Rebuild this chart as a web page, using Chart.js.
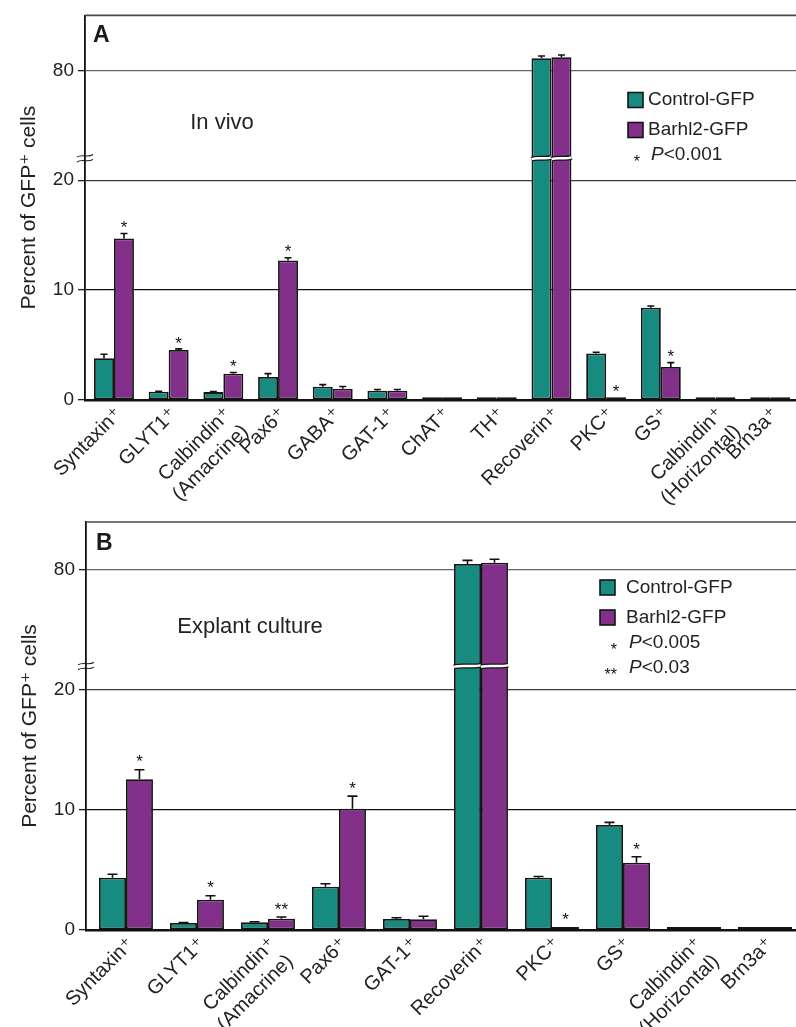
<!DOCTYPE html>
<html>
<head>
<meta charset="utf-8">
<script src="https://cdn.jsdelivr.net/npm/chart.js@4.4.1/dist/chart.umd.min.js"></script>
<style>
  html, body { margin: 0; padding: 0; background: #fff; overflow: hidden; width: 796px; height: 1027px; }
  canvas { position: absolute; left: 0; }
</style>
</head>
<body>
<canvas id="chartA" width="800" height="505" style="top:0"></canvas>
<canvas id="chartB" width="805" height="522" style="top:505px"></canvas>
<script>
const FONT = "'Liberation Sans', 'DejaVu Sans', Arial, sans-serif";
const TEAL = '#188B81';
const PURPLE = '#83308A';

// ---- Panel A: in vivo ----
const markersA = ['Syntaxin⁺', 'GLYT1⁺', ['Calbindin⁺', '(Amacrine)'], 'Pax6⁺', 'GABA⁺', 'GAT-1⁺',
                  'ChAT⁺', 'TH⁺', 'Recoverin⁺', 'PKC⁺', 'GS⁺', ['Calbindin⁺', '(Horizontal)'], 'Brn3a⁺'];
const controlA    = [3.8, 0.75, 0.72, 2.1, 1.2, 0.85, 0.25, 0.25, 81.1, 4.24, 8.4, 0.25, 0.25];
const controlErrA = [0.36, 0.05, 0.05, 0.3, 0.2, 0.1, 0, 0, 0.2, 0.1, 0.15, 0, 0];
const barhlA      = [14.7, 4.55, 2.4, 12.7, 1.03, 0.85, 0.25, 0.25, 81.2, 0.25, 3.0, 0.25, 0.25];
const barhlErrA   = [0.45, 0.1, 0.1, 0.25, 0.2, 0.1, 0, 0, 0.2, 0, 0.4, 0, 0];
const sigA        = ['*', '*', '*', '*', '', '', '', '', '', '*', '*', '', ''];

// ---- Panel B: explant culture ----
const markersB = ['Syntaxin⁺', 'GLYT1⁺', ['Calbindin⁺', '(Amacrine)'], 'Pax6⁺', 'GAT-1⁺',
                  'Recoverin⁺', 'PKC⁺', 'GS⁺', ['Calbindin⁺', '(Horizontal)'], 'Brn3a⁺'];
const controlB    = [4.36, 0.58, 0.64, 3.61, 0.92, 80.5, 4.36, 8.75, 0.25, 0.25];
const controlErrB = [0.28, 0.05, 0.05, 0.25, 0.1, 0.3, 0.1, 0.22, 0, 0];
const barhlB      = [12.56, 2.53, 0.94, 10.1, 0.9, 80.6, 0.25, 5.6, 0.25, 0.25];
const barhlErrB   = [0.8, 0.33, 0.14, 1.06, 0.25, 0.3, 0, 0.5, 0, 0];
const sigB        = ['*', '*', '**', '*', '', '', '*', '*', '', ''];

const yTickValues = [0, 10, 20, 80];
const legendNotesA = [['*', '<0.001']];
const legendNotesB = [['*', '<0.005'], ['**', '<0.03']];

// Broken value axis: everything above 20 is shifted down so that 80 sits one step above 20.
const BREAK_LOW = 20, BREAK_HIGH = 70;
const BREAK_MARK = 22;   // where the break symbol is drawn, in axis units
function toAxis(v) { return v > BREAK_LOW ? v - (BREAK_HIGH - BREAK_LOW) : v; }
function fromAxis(a) { return a > BREAK_LOW ? a + (BREAK_HIGH - BREAK_LOW) : a; }

function wave(ctx, x0, x1, y, amp) {
  const w = x1 - x0;
  ctx.moveTo(x0, y + amp * 0.6);
  ctx.bezierCurveTo(x0 + w * 0.3, y - amp, x0 + w * 0.7, y + amp, x1, y - amp * 0.6);
}

function decor(p) {
  return {
    id: 'decor' + p.letter,
    afterDatasetsDraw(chart) {
      const ctx = chart.ctx, ys = chart.scales.y;
      ctx.save();
      const yBreak = ys.getPixelForValue(BREAK_MARK);
      chart.data.datasets.forEach((ds, di) => {
        const meta = chart.getDatasetMeta(di);
        meta.data.forEach((el, i) => {
          const v = ds.values[i];
          // break through tall bars
          if (v > BREAK_LOW) {
            const x0 = el.x - el.width / 2, x1 = el.x + el.width / 2;
            ctx.lineCap = 'butt';
            ctx.beginPath(); wave(ctx, x0, x1, yBreak, 1.6);
            ctx.strokeStyle = '#151515'; ctx.lineWidth = 5; ctx.stroke();
            ctx.beginPath(); wave(ctx, x0, x1, yBreak, 1.6);
            ctx.strokeStyle = '#ffffff'; ctx.lineWidth = 2.4; ctx.stroke();
          }
          // upper error bar
          const e = ds.errors[i];
          let top = el.y;
          if (e > 0) {
            const yE = ys.getPixelForValue(toAxis(v + e));
            ctx.beginPath();
            ctx.moveTo(el.x, el.y); ctx.lineTo(el.x, yE);
            ctx.moveTo(el.x - p.cap / 2, yE); ctx.lineTo(el.x + p.cap / 2, yE);
            ctx.strokeStyle = '#111'; ctx.lineWidth = 1.6; ctx.stroke();
            top = yE;
          }
          // significance marks
          if (ds.sig && ds.sig[i]) {
            ctx.fillStyle = '#111';
            ctx.font = '17px ' + FONT;
            ctx.textAlign = 'center';
            ctx.textBaseline = 'alphabetic';
            ctx.fillText(ds.sig[i], el.x, top - p.starGap + 9.7);
          }
        });
      });
      ctx.restore();
    },
    afterDraw(chart) {
      const ctx = chart.ctx, area = chart.chartArea, ys = chart.scales.y;
      ctx.save();
      // top frame
      ctx.beginPath();
      ctx.moveTo(area.left, area.top); ctx.lineTo(chart.width, area.top);
      ctx.strokeStyle = '#4a4a4a'; ctx.lineWidth = 1.6; ctx.stroke();
      // axis break symbol
      const yB = ys.getPixelForValue(BREAK_MARK), ax = area.left;
      [-2.4, 2.4].forEach(off => {
        ctx.beginPath();
        wave(ctx, ax - 8, ax + 8, yB + off, 2.2);
        ctx.strokeStyle = '#222'; ctx.lineWidth = 1.1; ctx.stroke();
      });
      // panel letter
      ctx.fillStyle = '#1a1a1a';
      ctx.font = 'bold 23px ' + FONT;
      ctx.textAlign = 'left'; ctx.textBaseline = 'alphabetic';
      ctx.fillText(p.letter, p.letterX, p.letterY);
      // condition title
      ctx.font = '22px ' + FONT;
      ctx.textAlign = 'center'; ctx.textBaseline = 'middle';
      ctx.fillStyle = '#222';
      ctx.fillText(p.title, p.titleX, p.titleY);
      // legend
      const L = p.legend;
      const series = [[TEAL, 'Control-GFP'], [PURPLE, 'Barhl2-GFP']];
      ctx.font = '19px ' + FONT;
      ctx.textAlign = 'left'; ctx.textBaseline = 'middle';
      series.forEach((s, k) => {
        const cy = L.y + k * L.rowGap;
        ctx.fillStyle = s[0];
        ctx.fillRect(L.x, cy - 7.5, 15, 15);
        ctx.strokeStyle = '#151515'; ctx.lineWidth = 1.6;
        ctx.strokeRect(L.x, cy - 7.5, 15, 15);
        ctx.fillStyle = '#222';
        ctx.fillText(s[1], L.textX, cy);
      });
      p.notes.forEach((n, k) => {
        const cy = L.noteY + k * L.noteGap;
        ctx.fillStyle = '#111';
        ctx.font = '16px ' + FONT;
        ctx.textAlign = 'right'; ctx.textBaseline = 'alphabetic';
        ctx.fillText(n[0], L.starRight, cy + 11.5);
        ctx.textAlign = 'left'; ctx.textBaseline = 'middle';
        ctx.fillStyle = '#222';
        ctx.font = 'italic 19px ' + FONT;
        ctx.fillText('P', L.noteX, cy);
        const w = ctx.measureText('P').width;
        ctx.font = '19px ' + FONT;
        ctx.fillText(n[1], L.noteX + w, cy);
      });
      ctx.restore();
    }
  };
}

function makePanel(id, p) {
  const toPoints = arr => arr.map((v, i) => ({ x: i, y: toAxis(v) }));
  const barStyle = { borderColor: '#151515', borderWidth: 1.8, borderSkipped: false,
                     categoryPercentage: p.catPct, barPercentage: 1 };
  return new Chart(document.getElementById(id), {
    type: 'bar',
    data: {
      datasets: [
        Object.assign({ label: 'Control-GFP', data: toPoints(p.control), backgroundColor: TEAL,
                        values: p.control, errors: p.controlErr }, barStyle),
        Object.assign({ label: 'Barhl2-GFP', data: toPoints(p.barhl), backgroundColor: PURPLE,
                        values: p.barhl, errors: p.barhlErr, sig: p.sig }, barStyle)
      ]
    },
    options: {
      responsive: false, animation: false, devicePixelRatio: 1,
      layout: { padding: { top: p.padTop, right: p.padRight, left: 0, bottom: 0 } },
      plugins: { legend: { display: false }, tooltip: { enabled: false } },
      scales: {
        x: {
          type: 'linear', min: p.xMin, max: p.xMax, offset: false,
          afterBuildTicks: s => { s.ticks = p.markers.map((_, i) => ({ value: i })); },
          afterFit: s => { s.height = p.xHeight; },
          grid: { display: false, drawTicks: false },
          border: { display: true, color: '#111', width: 2.5 },
          ticks: { autoSkip: false, maxRotation: 45, minRotation: 45, padding: 3, labelOffset: 5,
                   color: '#222', font: { family: FONT, size: 20 },
                   callback: v => p.markers[Math.round(v)] }
        },
        y: {
          min: 0, max: p.yMax,
          afterBuildTicks: s => { s.ticks = yTickValues.map(v => ({ value: toAxis(v) })); },
          afterFit: s => { s.width = p.yWidth; },
          grid: {
            color: c => {
              const v = c.tick ? fromAxis(c.tick.value) : 0;
              return v === 10 ? '#111' : v === 20 ? '#3c3c3c' : v === 80 ? '#666' : 'rgba(0,0,0,0)';
            },
            lineWidth: 1.3, tickLength: 7, tickColor: '#222', tickWidth: 1.3
          },
          border: { color: '#111', width: 1.8 },
          ticks: { padding: 4, color: '#222', font: { family: FONT, size: 19 },
                   callback: v => String(fromAxis(v)) },
          title: { display: true, text: 'Percent of GFP⁺ cells', color: '#222',
                   font: { family: FONT, size: 21 }, padding: { top: p.titlePad, bottom: 0 } }
        }
      }
    },
    plugins: [decor(p)]
  });
}

makePanel('chartA', {
  letter: 'A', letterX: 93, letterY: 42,
  title: 'In vivo', titleX: 222, titleY: 123,
  markers: markersA, control: controlA, controlErr: controlErrA,
  barhl: barhlA, barhlErr: barhlErrA, sig: sigA, notes: legendNotesA,
  legend: { x: 628, y: 100, rowGap: 30, textX: 648, noteY: 155, noteGap: 25, starRight: 640, noteX: 651 },
  padTop: 15, padRight: 3, yWidth: 85, xHeight: 105, yMax: 35, titlePad: 17,
  xMin: -0.53, xMax: 12.49, catPct: 0.73, cap: 7, starGap: 10
});

makePanel('chartB', {
  letter: 'B', letterX: 96, letterY: 45,
  title: 'Explant culture', titleX: 250, titleY: 122,
  markers: markersB, control: controlB, controlErr: controlErrB,
  barhl: barhlB, barhlErr: barhlErrB, sig: sigB, notes: legendNotesB,
  legend: { x: 600, y: 82.5, rowGap: 30, textX: 626, noteY: 138, noteGap: 25, starRight: 617, noteX: 629 },
  padTop: 17, padRight: 4.5, yWidth: 86, xHeight: 97, yMax: 34, titlePad: 18,
  xMin: -0.563, xMax: 9.5, catPct: 0.76, cap: 10, starGap: 12
});
</script>
</body>
</html>
